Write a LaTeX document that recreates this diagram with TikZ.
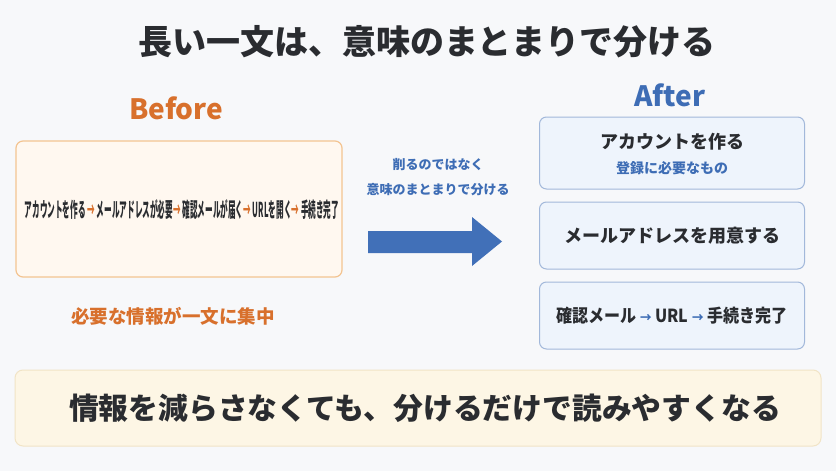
\documentclass[tikz,border=0pt]{standalone}
\usepackage{fontspec}
\setmainfont{Noto Sans CJK JP}
\usepackage{graphicx}
\usetikzlibrary{positioning}

\definecolor{bgcol}{HTML}{F7F8FA}
\definecolor{titleink}{HTML}{2A2C30}
\definecolor{orangeink}{HTML}{D8702C}
\definecolor{blueink}{HTML}{3E6DB5}
\definecolor{beforefill}{HTML}{FFF8F0}
\definecolor{beforeline}{HTML}{F3C491}
\definecolor{afterfill}{HTML}{EEF4FC}
\definecolor{afterline}{HTML}{A2B8DA}
\definecolor{notefill}{HTML}{FDF6E5}
\definecolor{noteline}{HTML}{F1E4C6}
\definecolor{arrowblue}{HTML}{4170B8}

\newcommand{\fsz}[1]{\fontsize{#1}{#1}\selectfont}

\begin{document}
\begin{tikzpicture}[x=1pt,y=-1pt,
	heading/.style={font=\fsz{28}\bfseries},
	beforebox/.style={draw=beforeline,fill=beforefill,rounded corners=7pt,line width=1.2pt,
		minimum width=326pt,minimum height=136pt,inner sep=0pt},
	afterbox/.style={draw=afterline,fill=afterfill,rounded corners=7pt,line width=1pt,
		minimum width=265pt,inner sep=0pt},
	steptext/.style={text=titleink,font=\fsz{18}\bfseries},
	]
	
	% Background
	\fill[bgcol] (0,0) rectangle (836,471);
	\useasboundingbox (0,0) rectangle (836,471);
	
	% Title
	\node[text=titleink,font=\fsz{34}\bfseries] (title) at (427,42) {長い一文は、意味のまとまりで分ける};
	
	% Before side
	\node[heading,text=orangeink] (before) at (176,108) {Before};
	\node[beforebox] (longbox) at (179,209) {};
	\node[text=titleink,font=\fsz{20.5}\bfseries] (longtext) at (182,210)
		{\scalebox{0.372}[1]{アカウントを作る {\color{orangeink}→} メールアドレスが必要{\color{orangeink}→} 確認メールが届く{\color{orangeink}→} URLを開く{\color{orangeink}→} 手続き完了}};
	\node[text=orangeink,font=\fsz{18.5}\bfseries] (crowded) at (173,316) {必要な情報が一文に集中};
	
	% Middle arrow
	\node[text=blueink,font=\fsz{13}\bfseries] (cutnot) at (438,165) {削るのではなく};
	\node[text=blueink,font=\fsz{13}\bfseries,below=5pt of cutnot] (splitby) {意味のまとまりで分ける};
	\fill[arrowblue] (368,231) -- (472,231) -- (472,217) -- (502,241.5) -- (472,266)
		-- (472,253) -- (368,253) -- cycle;
	
	% After side
	\node[heading,text=blueink] (after) at (670,95) {After};
	\node[afterbox,minimum height=72pt] (stepa) at (672,153) {};
	\node[steptext] (stepatext) at (672,142) {アカウントを作る};
	\node[text=blueink,font=\fsz{14}\bfseries] (stepanote) at (672,168) {登録に必要なもの};
	\node[afterbox,minimum height=67pt] (stepb) at (672,235.5) {};
	\node[steptext] (stepbtext) at (stepb.center) {メールアドレスを用意する};
	\node[afterbox,minimum height=67pt] (stepc) at (672,315.5) {};
	\node[steptext] (stepctext) at (stepc.center)
		{\scalebox{0.89}[1]{確認メール {\color{blueink}\fsz{13}→} URL {\color{blueink}\fsz{13}→} 手続き完了}};
	
	% Bottom message
	\node[draw=noteline,fill=notefill,rounded corners=8pt,line width=1pt,
		minimum width=806pt,minimum height=76pt,inner sep=0pt] (note) at (418,408) {};
	\node[text=titleink,font=\fsz{29.8}\bfseries] (notetext) at (425,408)
		{情報を減らさなくても、分けるだけで読みやすくなる};
\end{tikzpicture}
\end{document}
